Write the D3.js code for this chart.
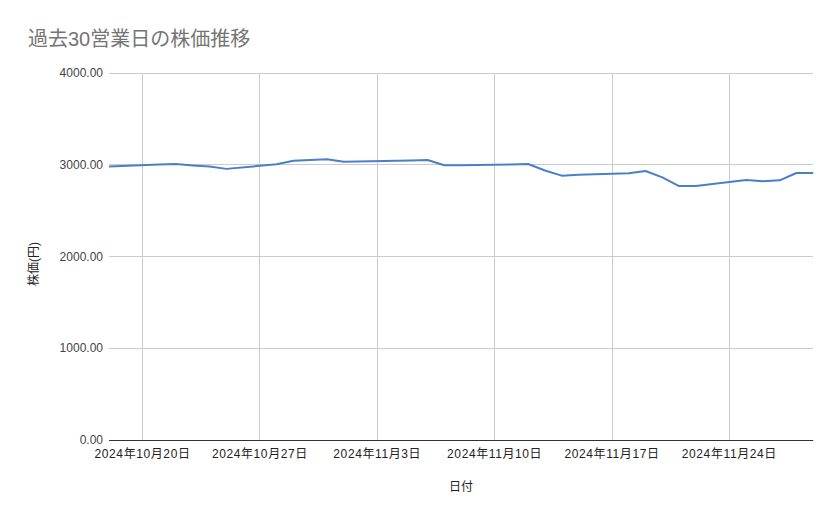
<!DOCTYPE html>
<html><head><meta charset="utf-8">
<script src="https://cdn.jsdelivr.net/npm/d3@7"></script>
<style>
html,body{margin:0;padding:0;background:#fff;}
svg{display:block;font-family:Arial,"Liberation Sans","Noto Sans CJK JP",sans-serif;}
</style></head><body>
<svg id="chart" width="839" height="519"></svg>
<script>
const title = "過去30営業日の株価推移";
const xTitle = "日付";
const yTitle = "株価(円)";
const dates = ["2024-10-18","2024-10-21","2024-10-22","2024-10-23","2024-10-24","2024-10-25",
  "2024-10-28","2024-10-29","2024-10-30","2024-10-31","2024-11-01",
  "2024-11-05","2024-11-06","2024-11-07","2024-11-08",
  "2024-11-11","2024-11-12","2024-11-13","2024-11-14","2024-11-15",
  "2024-11-18","2024-11-19","2024-11-20","2024-11-21","2024-11-22",
  "2024-11-25","2024-11-26","2024-11-27","2024-11-28","2024-11-29"];
const prices = [2980,3003,3008,2993,2981,2955,
  3005,3044,3052,3059,3033,
  3047,3052,2994,2995,
  3002,3008,2937,2881,2892,
  2907,2932,2863,2768,2768,
  2834,2820,2830,2910,2910];
const xTickDates = ["2024-10-20","2024-10-27","2024-11-03","2024-11-10","2024-11-17","2024-11-24"];
const xTickLabels = ["2024年10月20日","2024年10月27日","2024年11月3日","2024年11月10日","2024年11月17日","2024年11月24日"];
const yTicks = [0,1000,2000,3000,4000];
const yTickLabels = ["0.00","1000.00","2000.00","3000.00","4000.00"];
const xDomain = ["2024-10-18","2024-11-29"];

const parse = d3.utcParse("%Y-%m-%d");
const svg = d3.select("#chart");
const L = 109, R = 813.2, T = 73, B = 440;
const x = d3.scaleUtc().domain(xDomain.map(parse)).range([L, R]);
const y = d3.scaleLinear().domain([0, 4000]).range([B, T]);

// title
svg.append("text").attr("x", 28).attr("y", 46).attr("fill", "#757575")
  .attr("font-size", 20).text(title);

// horizontal gridlines
svg.append("g").selectAll("line").data(yTicks.filter(d => d > 0)).join("line")
  .attr("x1", L).attr("x2", R).attr("y1", d => y(d)).attr("y2", d => y(d))
  .attr("stroke", "#cccccc").attr("stroke-width", 1).attr("shape-rendering", "crispEdges");
// vertical gridlines
svg.append("g").selectAll("line").data(xTickDates.map(parse)).join("line")
  .attr("x1", d => x(d)).attr("x2", d => x(d)).attr("y1", T).attr("y2", B)
  .attr("stroke", "#cccccc").attr("stroke-width", 1).attr("shape-rendering", "crispEdges");

// y tick labels
svg.append("g").selectAll("text").data(yTicks).join("text")
  .attr("x", 103).attr("y", d => y(d) + 4).attr("text-anchor", "end")
  .attr("font-size", 12).attr("fill", "#444").text((d, i) => yTickLabels[i]);

// x tick labels
svg.append("g").selectAll("text").data(xTickDates.map(parse)).join("text")
  .attr("x", d => x(d)).attr("y", 458).attr("text-anchor", "middle")
  .attr("font-size", 12).attr("letter-spacing", "0.6px").attr("fill", "#222")
  .text((d, i) => xTickLabels[i]);

// line
const data = dates.map((d, i) => ({date: parse(d), value: prices[i]}));
svg.append("path").datum(data)
  .attr("fill", "none").attr("stroke", "#4a7fc9").attr("stroke-width", 2)
  .attr("stroke-linejoin", "round")
  .attr("d", d3.line().x(d => x(d.date)).y(d => y(d.value)));

// baseline axis
svg.append("line").attr("x1", L).attr("x2", R).attr("y1", B + 0.5).attr("y2", B + 0.5)
  .attr("stroke", "#333").attr("stroke-width", 1);

// axis titles
svg.append("text").attr("x", 461).attr("y", 491).attr("text-anchor", "middle")
  .attr("font-size", 12).attr("fill", "#222").text(xTitle);
svg.append("text").attr("transform", "translate(38,264) rotate(-90)")
  .attr("text-anchor", "middle").attr("font-size", 12).attr("fill", "#222").text(yTitle);
</script>
</body></html>
